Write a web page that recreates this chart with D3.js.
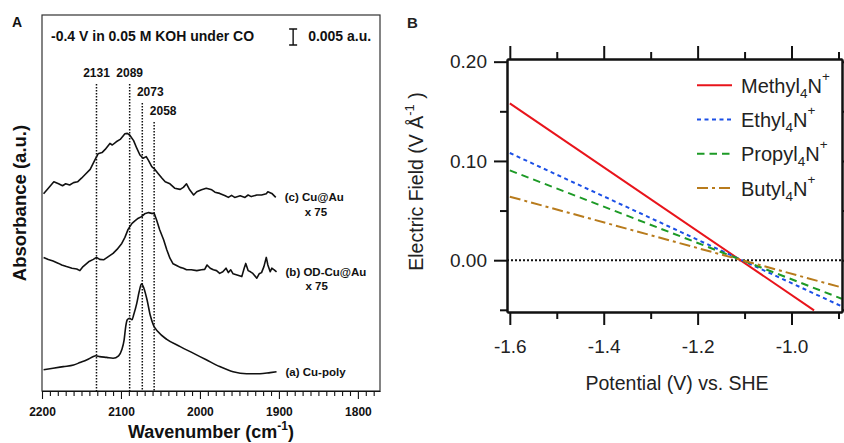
<!DOCTYPE html>
<html>
<head>
<meta charset="utf-8">
<script src="https://cdn.jsdelivr.net/npm/d3@7"></script>
<style>
  body { margin: 0; background: #fff; }
  svg { display: block; font-family: 'Liberation Sans', Arial, sans-serif; }
</style>
</head>
<body>
<div class="canvas"></div>
<script>
// ---- panel A : IR spectra (absorbance in units of 1.25e-3 a.u., offset) ----
const wnC = [2198, 2192, 2185, 2179, 2174, 2170, 2165, 2160, 2155, 2150, 2146, 2139, 2133, 2129, 2124, 2120, 2114, 2111, 2106, 2101, 2095, 2092, 2089, 2084, 2080, 2076, 2072, 2068, 2065, 2061, 2057, 2053, 2048, 2044, 2038, 2032, 2025, 2021, 2017, 2013, 2008, 2004, 1998, 1992, 1985, 1981, 1975, 1968, 1964, 1960, 1956, 1949, 1943, 1939, 1935, 1928, 1922, 1916, 1914, 1909, 1904]
const absC = [49.3, 50.7, 52.3, 51.8, 51.3, 51.8, 51.5, 52.1, 52.3, 53.2, 54.0, 55.4, 57.8, 59.3, 59.6, 60.4, 61.9, 61.5, 62.3, 62.9, 64.3, 64.4, 64.0, 62.6, 60.7, 59.0, 58.2, 58.6, 57.6, 56.1, 55.4, 54.4, 53.2, 52.3, 51.8, 50.7, 50.4, 50.9, 51.8, 50.3, 49.0, 49.8, 50.3, 50.7, 50.3, 49.7, 49.4, 48.8, 48.4, 48.9, 48.4, 48.8, 48.4, 49.0, 48.6, 49.0, 49.0, 49.3, 49.8, 49.4, 48.4]

const wnB = [2198, 2192, 2186, 2179, 2175, 2169, 2162, 2156, 2152, 2148, 2141, 2135, 2131, 2127, 2122, 2116, 2110, 2105, 2099, 2095, 2091, 2086, 2082, 2078, 2074, 2070, 2065, 2061, 2058, 2055, 2051, 2046, 2042, 2038, 2034, 2029, 2025, 2021, 2017, 2011, 2004, 1998, 1994, 1991, 1987, 1983, 1979, 1975, 1971, 1967, 1964, 1961, 1958, 1953, 1947, 1944, 1942, 1939, 1936, 1933, 1928, 1925, 1922, 1919, 1916, 1914, 1911, 1909, 1906, 1903]
const absB = [33.4, 32.9, 32.5, 31.9, 31.5, 31.1, 30.7, 30.5, 30.1, 31.1, 32.3, 32.9, 33.4, 32.9, 32.8, 33.6, 34.4, 35.4, 36.9, 38.4, 40.4, 41.9, 42.6, 43.2, 43.6, 44.3, 44.6, 44.4, 44.4, 42.8, 40.3, 37.8, 35.3, 33.2, 31.8, 31.3, 30.9, 30.7, 30.3, 30.3, 30.1, 30.3, 30.4, 31.5, 30.7, 30.3, 30.1, 29.4, 29.8, 30.7, 29.6, 30.3, 29.3, 29.0, 28.6, 30.7, 31.9, 30.1, 29.8, 29.4, 28.2, 29.3, 29.6, 31.1, 33.4, 31.5, 29.8, 30.7, 30.3, 29.8]

const wnA = [2198, 2186, 2173, 2160, 2152, 2143, 2135, 2132, 2127, 2118, 2110, 2103, 2099, 2096, 2094, 2092, 2089, 2086, 2084, 2080, 2077, 2074, 2071, 2067, 2063, 2059, 2053, 2042, 2025, 2008, 1992, 1975, 1958, 1941, 1924, 1911, 1903]
const absA = [5.3, 5.7, 6.1, 6.5, 7.1, 7.8, 8.6, 8.8, 8.6, 8.4, 8.2, 8.8, 10.3, 12.8, 16.1, 17.8, 18.2, 17.8, 19.0, 21.9, 24.8, 26.8, 25.7, 22.8, 19.0, 16.5, 14.8, 12.9, 11.1, 9.4, 7.8, 6.1, 4.8, 4.3, 4.3, 4.6, 4.8]

const spectrumLabels = [['(c) Cu@Au', 'x 75'], ['(b) OD-Cu@Au', 'x 75'], ['(a) Cu-poly']]

const peakPositions = [2131, 2089, 2073, 2058]
const peakLineTops = [76.75, 76.75, 72, 67.25]

const xTicksA = [2200, 2100, 2000, 1900, 1800]
const scaleBar = { wn: 1882, bottom: 86.5, size: 4, label: '0.005 a.u.' }

// ---- panel B : electric field vs potential ----
const cationNames = ['Methyl', 'Ethyl', 'Propyl', 'Butyl']
const methylPotential = [-1.6, -0.952]
const methylField = [0.158, -0.0505]
const ethylPotential = [-1.6, -0.893]
const ethylField = [0.108, -0.0465]
const propylPotential = [-1.6, -0.893]
const propylField = [0.0905, -0.0388]
const butylPotential = [-1.6, -0.893]
const butylField = [0.064, -0.0275]

const xMajorTicksB = [-1.6, -1.4, -1.2, -1.0]
const xMinorTicksB = [-1.5, -1.3, -1.1, -0.9]
const yMajorTicksB = [0.0, 0.1, 0.2]
const yMinorTicksB = [-0.05, 0.05, 0.15]

const cationColours = ['#e8141b', '#1b4fe6', '#1d9a26', '#b87b1c']
const cationDashes = [null, '4,3.5', '7.5,5', '11,4,3,4']

const svg = d3.select('.canvas')
    .append('svg')
    .attr('width', 844)
    .attr('height', 443)

// ================= panel A =================
const boxA = { left: 42, top: 15, right: 380, bottom: 391 }

const xA = d3.scaleLinear().domain([2200, 1772]).range([boxA.left, boxA.right])
const yA = d3.scaleLinear().domain([0, 94]).range([boxA.bottom, boxA.top])

const panelA = svg.append('g').attr('font-weight', 'bold').attr('fill', '#111')

panelA.append('text')
    .attr('x', 12).attr('y', 27)
    .attr('font-size', 14)
    .text('A')

panelA.append('rect')
    .attr('x', boxA.left).attr('y', boxA.top)
    .attr('width', boxA.right - boxA.left)
    .attr('height', boxA.bottom - boxA.top)
    .attr('fill', 'none')
    .attr('stroke', '#333')
    .attr('stroke-width', 1.2)

// bottom axis : minor every 10, labelled every 100
const minorA = d3.range(1780, 2200, 10).filter(d => d % 100 !== 0)

panelA.append('g')
    .attr('transform', `translate(0, ${boxA.bottom})`)
    .call(d3.axisBottom(xA).tickValues(minorA).tickSize(5).tickFormat(''))
    .call(g => g.select('.domain').remove())

panelA.append('g')
    .attr('transform', `translate(0, ${boxA.bottom})`)
    .call(d3.axisBottom(xA).tickValues(xTicksA).tickSize(8).tickPadding(8).tickSizeOuter(0)
        .tickFormat(d => String(d)))
    .call(g => g.select('.domain').attr('stroke', '#111').attr('stroke-width', 1.2))
    .call(g => g.selectAll('.tick text').attr('font-size', 12).attr('font-weight', 'bold')
        .attr('font-family', 'Liberation Sans, Arial, sans-serif').attr('fill', '#111'))

panelA.selectAll('.tick line').attr('stroke', '#111').attr('stroke-width', 1.1)

// axis titles
const xTitleA = panelA.append('text')
    .attr('x', (boxA.left + boxA.right) / 2).attr('y', 438)
    .attr('text-anchor', 'middle')
    .attr('font-size', 18)
xTitleA.append('tspan').text('Wavenumber (cm')
xTitleA.append('tspan').attr('dy', -8).attr('font-size', 12).text('-1')
xTitleA.append('tspan').attr('dy', 8).text(')')

panelA.append('text')
    .attr('transform', `translate(26, 203) rotate(-90)`)
    .attr('text-anchor', 'middle')
    .attr('font-size', 18.5)
    .text('Absorbance (a.u.)')

// condition + scale bar
panelA.append('text')
    .attr('x', 51).attr('y', 41)
    .attr('font-size', 14)
    .text('-0.4 V in 0.05 M KOH under CO')

const barX = xA(scaleBar.wn)
const barTop = yA(scaleBar.bottom + scaleBar.size)
const barBottom = yA(scaleBar.bottom)
panelA.append('path')
    .attr('d', `M${barX - 4},${barTop}H${barX + 4}M${barX},${barTop}V${barBottom}M${barX - 4},${barBottom}H${barX + 4}`)
    .attr('stroke', '#111')
    .attr('stroke-width', 1.4)
    .attr('fill', 'none')

panelA.append('text')
    .attr('x', barX + 15).attr('y', 41)
    .attr('font-size', 14)
    .text(scaleBar.label)

// dotted peak markers
const peakLabelDx = [0, 0, 8, 9]
peakPositions.forEach((p, i) => {
    panelA.append('line')
        .attr('x1', xA(p)).attr('x2', xA(p))
        .attr('y1', yA(peakLineTops[i])).attr('y2', boxA.bottom)
        .attr('stroke', '#111')
        .attr('stroke-width', 1.5)
        .attr('stroke-dasharray', '1.5,1.5')
    panelA.append('text')
        .attr('x', xA(p) + peakLabelDx[i])
        .attr('y', yA(peakLineTops[i]) - 7)
        .attr('text-anchor', 'middle')
        .attr('font-size', 12)
        .text(p)
})

// spectra
const spectra = [
    { wn: wnC, abs: absC, curve: d3.curveLinear },
    { wn: wnB, abs: absB, curve: d3.curveLinear },
    { wn: wnA, abs: absA, curve: d3.curveMonotoneX }
]

spectra.forEach((s, i) => {
    const pts = d3.zip(s.wn, s.abs)
    const line = d3.line()
        .x(d => xA(d[0]))
        .y(d => yA(d[1]))
        .curve(s.curve)

    panelA.append('path')
        .attr('d', line(pts))
        .attr('fill', 'none')
        .attr('stroke', '#111')
        .attr('stroke-width', 1.6)
        .attr('stroke-linejoin', 'round')

    const last = pts[pts.length - 1]
    spectrumLabels[i].forEach((t, j) => {
        panelA.append('text')
            .attr('x', xA(last[0]) + 9 + (j ? 20 : 0))
            .attr('y', yA(last[1]) + 4 + j * 14.5)
            .attr('font-size', 11.5)
            .text(t)
    })
})

// ================= panel B =================
const boxB = { left: 507, top: 59, right: 842, bottom: 312 }

const xB = d3.scaleLinear().domain([-1.606, -0.8925]).range([boxB.left, boxB.right])
const yB = d3.scaleLinear().domain([-0.0522, 0.2027]).range([boxB.bottom, boxB.top])

const panelB = svg.append('g').attr('fill', '#222')

panelB.append('text')
    .attr('x', 407).attr('y', 27.5)
    .attr('font-size', 15)
    .attr('font-weight', 'bold')
    .text('B')

svg.append('clipPath').attr('id', 'clipB')
    .append('rect')
    .attr('x', boxB.left).attr('y', boxB.top)
    .attr('width', boxB.right - boxB.left)
    .attr('height', boxB.bottom - boxB.top)

const plotB = panelB.append('g').attr('clip-path', 'url(#clipB)')

// zero line
plotB.append('line')
    .attr('x1', boxB.left).attr('x2', boxB.right)
    .attr('y1', yB(0)).attr('y2', yB(0))
    .attr('stroke', '#111')
    .attr('stroke-width', 2)
    .attr('stroke-dasharray', '2,2')

const potentials = [methylPotential, ethylPotential, propylPotential, butylPotential]
const fields = [methylField, ethylField, propylField, butylField]

const fieldLine = d3.line()
    .x(d => xB(d[0]))
    .y(d => yB(d[1]))

cationNames.forEach((name, i) => {
    plotB.append('path')
        .attr('d', fieldLine(d3.zip(potentials[i], fields[i])))
        .attr('fill', 'none')
        .attr('stroke', cationColours[i])
        .attr('stroke-width', 2)
        .attr('stroke-dasharray', cationDashes[i])
})

// axes : four sides, major + minor ticks
const styleAxis = g => {
    g.select('.domain').attr('stroke', '#111').attr('stroke-width', 2)
    g.selectAll('.tick line').attr('stroke', '#111').attr('stroke-width', 2)
    g.selectAll('.tick text').attr('font-size', 19).attr('fill', '#222')
        .attr('font-family', 'Liberation Sans, Arial, sans-serif')
}

const addAxis = (axisFn, scale, major, minor, translate, labelFormat, padding) => {
    panelB.append('g')
        .attr('transform', translate)
        .call(axisFn(scale).tickValues(minor).tickSize(7).tickSizeOuter(0).tickFormat(''))
        .call(styleAxis)
    panelB.append('g')
        .attr('transform', translate)
        .call(axisFn(scale).tickValues(major).tickSize(13).tickSizeOuter(0)
            .tickPadding(padding).tickFormat(labelFormat || ''))
        .call(styleAxis)
}

addAxis(d3.axisBottom, xB, xMajorTicksB, xMinorTicksB, `translate(0, ${boxB.bottom})`, d => d.toFixed(1), 15)
addAxis(d3.axisTop, xB, xMajorTicksB, xMinorTicksB, `translate(0, ${boxB.top})`, null, 3)
addAxis(d3.axisLeft, yB, yMajorTicksB, yMinorTicksB, `translate(${boxB.left}, 0)`, d => d.toFixed(2), 7)
addAxis(d3.axisRight, yB, yMajorTicksB, yMinorTicksB, `translate(${boxB.right}, 0)`, null, 3)

// axis titles
panelB.append('text')
    .attr('x', 677).attr('y', 389.5)
    .attr('text-anchor', 'middle')
    .attr('font-size', 19.5)
    .text('Potential (V) vs. SHE')

const yTitleB = panelB.append('text')
    .attr('transform', 'translate(423, 181.5) rotate(-90)')
    .attr('text-anchor', 'middle')
    .attr('font-size', 19.5)
yTitleB.append('tspan').text('Electric Field (V Å')
yTitleB.append('tspan').attr('dy', -9).attr('font-size', 13).text('-1')
yTitleB.append('tspan').attr('dy', 9).text(' )')

// legend
const legend = panelB.append('g')
cationNames.forEach((name, i) => {
    const base = 92.7 + i * 34.3
    legend.append('line')
        .attr('x1', 697).attr('x2', 732)
        .attr('y1', base - 7.5).attr('y2', base - 7.5)
        .attr('stroke', cationColours[i])
        .attr('stroke-width', 2)
        .attr('stroke-dasharray', cationDashes[i])

    const t = legend.append('text')
        .attr('x', 741).attr('y', base)
        .attr('font-size', 20)
    t.append('tspan').text(name)
    t.append('tspan').attr('dy', 5).attr('font-size', 13.5).text('4')
    t.append('tspan').attr('dy', -5).text('N')
    t.append('tspan').attr('dy', -12).attr('font-size', 13.5).text('+')
})
</script>
</body>
</html>
